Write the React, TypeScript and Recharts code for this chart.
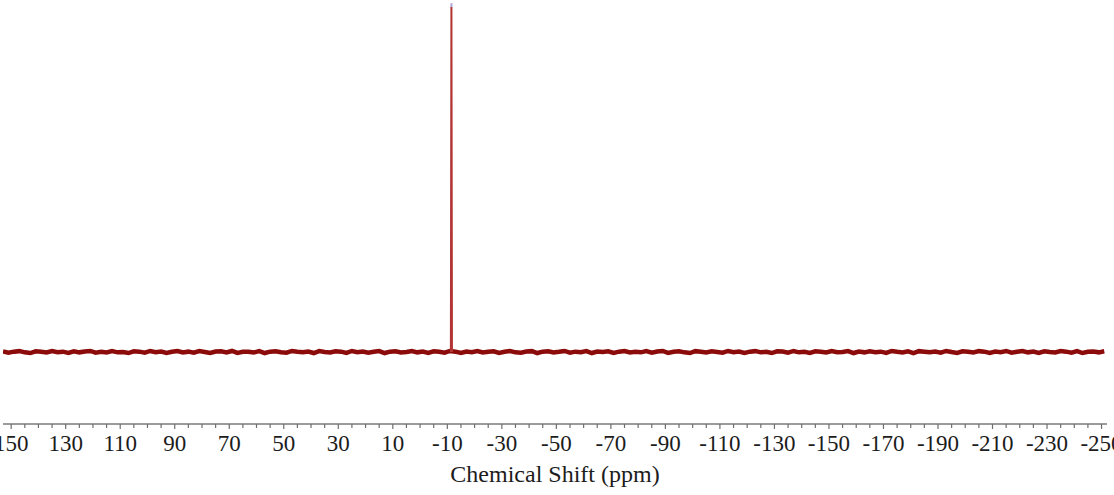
// 1D NMR spectrum: noisy baseline with a single sharp resonance near -11.5 ppm.
import { Line, LineChart, XAxis, YAxis } from 'recharts'

const FONT = '"Liberation Serif", "Times New Roman", serif'
const SPECTRUM_COLOR = '#8b0a0a'
const PEAK_COLOR = '#b23434'
const TIP_COLOR = '#aaa6dc'

// Baseline noise, sampled every 2 ppm starting at 153 ppm (intensity, peak = 100).
const shiftStart = 153
const shiftStep = -2
const baselineNoise = [
  0.15, -0.2, 0.1, 0.25, -0.1, -0.3, 0.2, 0.05, -0.15, 0.3, -0.05, 0.1, -0.25, 0.2, -0.1, 0.15, 0.3, -0.2, 0.05, -0.15,
  0.25, -0.1, 0.0, -0.3, 0.2, 0.1, -0.2, 0.3, -0.05, 0.15, -0.25, 0.05, 0.3, -0.15, 0.1, -0.2, 0.25, 0.0, -0.3, 0.15,
  0.2, -0.1, 0.3, -0.25, 0.05, 0.1, -0.15, 0.25, -0.3, 0.1, 0.2, -0.05, -0.2, 0.3, 0.05, -0.1, 0.15, -0.3, 0.25, 0.0,
  -0.15, 0.2, 0.1, -0.25, 0.3, -0.05, 0.15, -0.2, 0.05, 0.25, -0.3, 0.1, 0.2, -0.15, 0.0, 0.3, -0.1, 0.15, -0.25, 0.2,
  0.05, -0.2, 0.3, 0.1, -0.3, 0.15, -0.05, 0.25, -0.15, 0.1, 0.2, -0.25, 0.05, 0.3, -0.1, -0.2, 0.15, 0.25, -0.3, 0.1,
  0.2, -0.15, 0.05, 0.3, -0.2, 0.1, -0.05, 0.25, -0.3, 0.15, 0.0, 0.2, -0.25, 0.1, 0.3, -0.15, 0.05, -0.1, 0.25, -0.2,
  0.15, 0.3, -0.25, 0.05, 0.2, -0.1, -0.3, 0.25, 0.1, -0.15, 0.2, 0.0, -0.2, 0.3, -0.05, 0.15, -0.25, 0.1, 0.25, -0.1,
  0.05, -0.3, 0.2, 0.15, -0.2, 0.3, -0.1, 0.05, -0.25, 0.2, 0.1, -0.15, 0.3, -0.05, 0.0, 0.25, -0.3, 0.15, -0.1, 0.2,
  -0.05, 0.1, -0.25, 0.3, 0.05, -0.15, 0.2, -0.3, 0.25, 0.1, -0.1, 0.15, -0.2, 0.3, 0.0, -0.25, 0.2, 0.05, -0.15, 0.25,
  0.1, -0.3, 0.15, -0.05, 0.3, -0.2, 0.05, 0.25, -0.1, 0.15, -0.25, 0.2, 0.0, -0.15, 0.3, 0.1, -0.2, 0.25, -0.3, 0.05,
  0.15, -0.1, 0.2,
]

// The single resonance.
const peakShift = [-11.3, -11.5, -11.7]
const peakIntensity = [0, 100, 0]
const tipShift = [-11.5, -11.5]
const tipIntensity = [100, 101.1]

// Axis ticks: labelled every 20 ppm, minor marks every 5 ppm.
const labelTicks = [150, 130, 110, 90, 70, 50, 30, 10, -10, -30, -50, -70, -90, -110, -130, -150, -170, -190, -210, -230, -250]
const minorOffsets = [5, 10, 15]

const baselineData = baselineNoise.map((v, i) => ({ ppm: shiftStart + i * shiftStep, y: v }))
const peakData = peakShift.map((p, i) => ({ ppm: p, y: peakIntensity[i] }))
const tipData = tipShift.map((p, i) => ({ ppm: p, y: tipIntensity[i] }))
const allTicks = [
  ...labelTicks,
  ...labelTicks.flatMap((t) => minorOffsets.map((o) => t - o)).filter((t) => t > -252),
].sort((a, b) => b - a)

function ShiftTick({ x, y, payload }: any) {
  const v = payload.value as number
  const major = labelTicks.includes(v)
  return (
    <g>
      <line x1={x} y1={y} x2={x} y2={y + (major ? 5 : 4)} stroke="#6f6f6f" strokeWidth={1.2} />
      {major ? (
        <text x={x} y={y + 27} textAnchor="middle" fontFamily={FONT} fontSize={23} fill="#1c1c1c">
          {v}
        </text>
      ) : null}
    </g>
  )
}

function AxisTitle({ viewBox }: any) {
  const cx = viewBox.x + viewBox.width / 2
  return (
    <text x={cx} y={viewBox.y + 58} textAnchor="middle" fontFamily={FONT} fontSize={24} fill="#1c1c1c">
      Chemical Shift (ppm)
    </text>
  )
}

export default function App() {
  return (
    <div
      style={{
        position: 'fixed',
        left: 0,
        top: 0,
        width: 1114,
        height: 495,
        overflow: 'hidden',
        background: '#fff',
      }}
    >
      <LineChart width={1114} height={495} margin={{ top: 3, right: 7, bottom: 0, left: 3 }}>
        <XAxis
          dataKey="ppm"
          type="number"
          domain={[-252, 153]}
          reversed
          allowDataOverflow
          ticks={allTicks}
          interval={0}
          height={71}
          tickSize={0}
          tickMargin={0}
          tickLine={false}
          axisLine={{ stroke: '#7a7a7a', strokeWidth: 1.5 }}
          tick={<ShiftTick />}
          label={<AxisTitle />}
        />
        <YAxis hide type="number" domain={[-20.87, 101.16]} allowDataOverflow />
        <Line
          data={baselineData}
          dataKey="y"
          type="linear"
          stroke={SPECTRUM_COLOR}
          strokeWidth={4.5}
          dot={false}
          isAnimationActive={false}
        />
        <Line
          data={peakData}
          dataKey="y"
          type="linear"
          stroke={PEAK_COLOR}
          strokeWidth={2}
          dot={false}
          isAnimationActive={false}
        />
        <Line
          data={tipData}
          dataKey="y"
          type="linear"
          stroke={TIP_COLOR}
          strokeWidth={2}
          dot={false}
          isAnimationActive={false}
        />
      </LineChart>
    </div>
  )
}
